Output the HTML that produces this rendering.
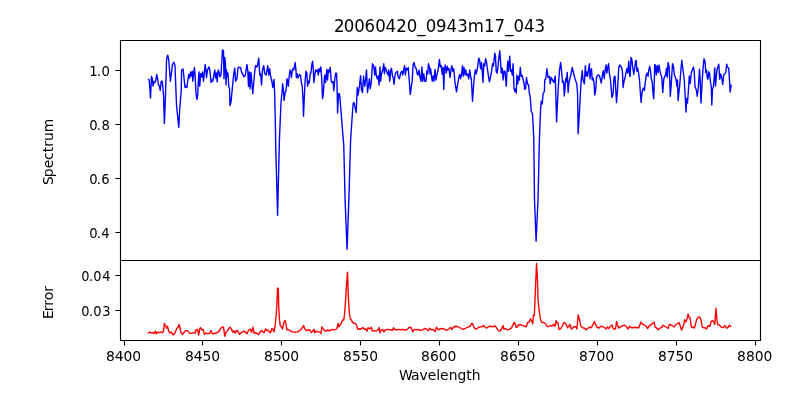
<!DOCTYPE html>
<html><head><meta charset="utf-8"><title>20060420_0943m17_043</title><style>
html,body{margin:0;padding:0;background:#fff;width:800px;height:400px;overflow:hidden}
svg{display:block;will-change:transform}
text{fill:#000}
</style></head><body>
<svg width="800" height="400" viewBox="0 0 800 400">
<rect x="0" y="0" width="800" height="400" fill="#ffffff"/>
<polyline points="148.60,79.50 149.20,80.00 150.50,98.00 151.50,76.50 152.20,78.00 153.00,86.00 153.80,81.50 154.60,83.00 155.50,81.50 156.80,74.50 157.60,79.00 158.50,85.00 159.40,86.00 160.20,90.50 161.10,82.00 161.90,81.00 162.50,83.00 163.50,95.00 164.40,123.50 165.50,95.00 166.60,58.75 167.75,55.25 168.75,60.00 170.40,81.25 172.50,64.40 174.00,62.25 175.00,66.00 176.50,105.00 178.75,127.25 179.75,108.75 181.25,90.00 181.60,70.00 183.10,69.00 184.00,78.00 185.00,87.50 185.90,86.00 186.90,87.50 187.80,80.00 188.75,74.40 189.60,78.00 190.60,71.90 191.40,76.00 192.25,71.25 192.75,81.25 193.50,75.00 194.40,67.50 195.00,73.75 196.00,93.75 196.90,99.40 197.75,95.00 198.10,85.00 199.00,71.90 199.75,86.25 200.60,73.75 201.50,77.00 202.50,71.90 203.50,81.25 204.40,72.00 205.25,64.40 205.90,70.00 206.50,77.50 207.50,70.00 209.00,66.90 210.00,71.25 211.00,82.50 211.90,80.00 212.75,81.25 213.70,76.00 214.75,70.00 215.50,78.00 216.30,73.00 217.25,81.90 218.10,70.00 219.00,72.00 220.00,76.90 221.00,74.40 222.50,50.00 223.50,50.60 224.00,78.75 224.75,57.50 225.40,62.00 226.00,85.00 226.50,70.00 227.25,76.25 227.90,73.00 228.75,86.25 229.50,88.00 230.00,105.60 231.00,101.90 231.80,94.00 233.10,80.00 233.75,73.75 234.75,68.10 235.60,81.25 236.90,78.75 238.10,67.50 239.40,67.50 240.60,67.50 241.50,71.90 242.75,74.40 244.00,76.90 245.20,75.60 246.90,64.40 247.75,70.00 248.50,86.25 249.40,71.90 250.00,88.75 251.00,72.50 251.90,83.00 252.75,93.75 253.60,84.00 254.75,71.25 255.60,65.60 256.90,66.90 257.60,65.00 258.75,58.10 259.75,75.00 260.60,73.75 261.50,85.00 262.50,70.00 263.75,65.60 264.75,73.75 266.20,75.00 267.75,65.60 268.75,75.00 269.75,68.75 270.60,76.25 271.90,81.25 272.75,87.50 274.00,79.40 274.60,92.00 275.30,120.00 275.80,150.00 277.60,215.20 278.20,190.00 279.40,140.00 281.00,102.50 282.25,90.00 282.50,83.75 283.30,88.00 284.10,100.50 285.10,92.50 286.00,91.25 287.00,78.75 287.60,81.00 288.25,86.25 289.20,76.00 290.10,70.00 290.80,72.00 291.40,77.50 292.25,70.60 293.00,68.75 293.80,70.00 294.50,66.25 295.10,62.50 295.80,68.00 296.40,77.50 297.00,73.75 298.00,78.10 298.80,76.00 299.50,74.40 300.50,75.60 301.40,82.50 302.25,86.25 303.00,99.40 303.50,116.25 304.30,98.00 305.10,81.25 306.00,71.25 306.75,72.50 307.60,86.25 308.50,81.25 309.30,83.00 310.10,73.75 311.00,72.50 311.75,65.00 312.60,61.25 313.25,68.75 313.90,82.50 314.75,75.00 315.75,70.00 316.75,71.25 317.60,70.00 318.25,75.00 318.90,68.75 319.75,71.90 320.75,66.90 321.75,78.75 322.50,98.50 323.20,95.00 324.50,76.25 325.00,75.00 325.60,82.50 326.90,69.40 327.50,80.00 328.50,70.00 329.40,72.00 330.25,67.50 331.25,81.25 332.25,82.50 333.10,81.50 333.75,90.60 334.75,80.00 335.60,73.10 336.50,73.10 337.00,83.75 337.60,113.00 338.50,93.75 339.40,93.75 340.00,98.75 342.50,130.00 343.75,145.00 345.10,200.00 347.10,249.30 348.85,200.00 350.60,140.00 351.25,130.00 353.10,103.75 354.00,102.50 355.00,106.90 356.25,112.50 357.25,87.50 358.10,95.00 359.40,86.25 360.60,75.60 361.50,90.00 362.50,92.50 363.50,76.25 364.75,86.25 365.60,80.00 366.50,70.00 367.50,92.50 368.40,86.00 369.40,78.75 370.25,88.75 371.25,82.50 372.50,63.75 373.75,66.25 374.75,75.00 375.50,66.90 376.25,75.00 377.25,78.75 378.20,76.00 379.00,85.00 380.00,66.90 380.60,81.25 381.50,73.75 382.50,71.00 383.75,63.75 384.40,73.75 385.25,67.50 386.25,70.00 387.20,73.00 388.10,75.00 388.80,70.00 389.75,81.25 390.60,71.25 391.50,68.10 392.50,76.25 393.30,78.00 394.00,84.40 395.00,75.00 396.00,72.50 397.25,71.25 398.10,76.90 399.40,78.75 400.60,73.10 401.90,71.25 402.80,75.00 403.75,69.40 404.60,65.60 405.40,75.00 406.25,68.10 407.25,70.00 408.25,67.50 409.40,82.50 410.25,94.40 411.25,87.50 412.25,80.00 413.10,65.00 414.00,62.50 415.00,66.90 416.25,68.75 417.25,73.75 418.10,75.00 419.00,70.00 420.00,77.50 421.00,81.25 421.90,66.90 422.75,81.25 423.75,73.75 424.75,81.25 426.00,81.25 426.90,70.60 427.70,74.00 428.50,63.75 429.40,66.90 430.00,73.75 430.60,68.75 431.50,75.60 432.25,81.25 433.10,76.00 434.00,81.25 435.00,69.40 436.00,80.00 436.90,75.00 438.10,70.00 439.40,59.40 440.25,66.90 441.25,65.60 442.25,74.40 443.10,67.50 443.75,89.40 444.40,70.00 445.25,65.00 446.25,73.10 447.25,66.25 448.10,70.00 449.00,68.50 450.00,77.50 451.00,70.00 451.90,65.60 452.75,71.25 453.75,68.75 455.00,82.50 456.50,91.90 457.75,83.75 458.75,77.50 459.75,74.40 460.60,78.75 461.50,73.75 462.50,65.60 463.10,76.25 464.00,67.50 465.00,75.00 465.75,70.00 466.90,75.60 467.80,74.00 468.75,78.75 469.75,70.00 470.60,76.25 471.40,80.00 472.50,101.25 473.40,88.00 474.40,76.25 475.25,70.00 476.25,73.75 477.00,70.00 477.75,66.25 478.75,58.10 479.60,60.00 480.60,68.75 481.50,62.50 482.25,71.25 483.00,82.50 483.75,63.75 484.70,66.00 485.60,58.75 486.50,61.90 487.30,68.00 488.10,73.75 489.40,81.90 490.60,76.25 491.50,72.00 492.50,63.75 493.50,66.00 494.75,53.10 495.50,56.00 496.25,71.90 497.25,73.10 498.20,64.00 499.75,50.60 500.60,62.00 501.25,73.10 502.25,68.10 503.10,80.00 504.00,71.25 505.00,71.25 506.25,86.25 507.00,72.00 507.75,61.25 508.50,71.25 509.00,66.00 509.75,56.25 510.60,71.25 511.40,70.00 512.25,75.00 513.10,63.75 514.00,88.75 514.75,91.25 515.50,89.00 516.25,93.10 516.90,75.00 517.75,83.75 518.50,76.25 519.40,80.00 520.25,67.50 521.25,76.25 522.20,75.50 523.10,79.40 524.00,83.00 524.75,89.40 525.60,88.75 526.50,77.50 527.50,83.75 528.50,85.00 529.40,93.75 530.20,96.50 531.25,111.25 532.50,113.75 533.75,137.50 534.50,200.00 536.10,241.30 538.00,200.00 539.40,140.00 540.60,108.75 541.25,101.25 542.20,104.00 543.10,93.75 544.40,91.25 544.75,80.00 545.80,78.75 546.90,68.75 548.10,77.50 549.40,76.25 550.25,83.75 551.25,77.50 552.50,80.00 553.75,82.50 555.25,76.25 556.60,121.90 557.50,102.50 558.10,90.00 559.40,71.25 560.60,62.50 561.30,68.00 562.50,82.50 563.10,81.00 563.75,83.75 564.30,96.00 564.90,90.00 565.60,78.75 566.30,82.00 567.25,72.50 568.10,92.50 569.00,82.50 570.00,78.10 571.00,74.00 572.25,67.50 573.75,73.75 575.00,78.75 576.25,82.50 576.90,84.00 577.60,95.00 578.10,133.75 579.40,112.50 580.60,90.00 581.25,80.00 582.25,70.60 583.10,80.00 584.40,83.75 585.30,65.60 586.10,76.00 586.90,72.00 587.60,76.25 588.50,70.00 589.40,63.75 590.00,78.75 590.80,72.00 591.50,68.75 592.25,80.00 593.10,78.10 594.00,82.50 594.75,95.00 595.60,91.00 596.50,78.00 597.20,75.60 598.10,75.00 599.40,75.60 600.25,78.75 601.25,83.10 602.30,76.00 603.30,70.60 604.20,78.75 605.10,70.00 606.10,65.00 606.80,73.10 607.70,68.00 608.50,63.75 609.50,74.40 610.40,78.75 611.90,97.50 613.10,93.75 614.00,77.50 615.00,76.25 616.50,102.50 617.50,90.00 618.75,67.50 619.75,65.00 621.50,67.50 622.40,71.00 623.10,87.50 624.00,81.25 625.00,78.00 626.00,72.50 626.90,68.75 627.80,73.00 628.75,61.25 629.75,76.25 630.20,76.25 631.00,57.50 631.80,59.00 632.75,67.50 633.75,74.40 634.70,68.00 635.60,61.25 636.25,60.60 636.90,71.25 637.75,68.10 638.50,72.50 639.50,80.00 640.30,92.00 641.10,102.50 641.80,95.00 642.50,90.00 643.50,88.10 644.40,90.60 645.25,82.50 646.25,75.00 647.25,73.10 648.10,76.25 648.75,70.00 649.75,66.25 650.60,71.90 651.25,78.75 652.20,82.00 653.10,94.40 653.75,98.75 654.75,64.40 655.50,65.50 656.25,75.00 657.25,65.60 658.10,72.50 659.00,65.00 660.00,71.25 661.00,75.00 661.80,77.00 662.75,92.50 663.75,79.40 664.75,76.25 665.60,75.00 666.50,68.10 667.25,77.50 668.10,62.50 669.00,66.00 669.75,80.00 670.30,96.25 671.20,85.00 672.50,63.75 673.40,66.00 674.40,75.00 675.25,76.90 676.10,80.00 676.90,86.25 677.50,80.00 678.10,100.60 680.00,82.00 680.90,70.00 681.80,60.25 683.00,70.00 684.20,79.00 685.25,97.00 686.00,112.00 686.75,98.50 687.50,103.00 688.30,92.00 689.30,76.00 690.20,83.50 691.25,73.00 692.30,70.00 693.50,67.00 694.25,71.50 695.00,86.50 696.20,89.50 697.25,96.25 698.30,88.00 699.50,69.25 700.20,80.00 701.00,103.00 702.20,80.50 703.10,68.00 704.00,58.75 705.10,62.00 705.75,72.50 706.50,70.00 707.25,77.75 708.00,79.25 708.75,71.75 709.50,73.00 710.25,80.00 711.30,87.50 711.80,105.00 712.50,89.00 713.25,87.50 714.00,80.00 714.75,68.00 715.50,86.00 716.20,78.00 717.00,69.50 717.90,67.00 718.80,64.25 719.70,79.25 720.75,74.00 721.60,77.00 722.70,84.50 723.75,74.75 724.80,74.00 725.80,72.00 726.75,64.25 727.50,67.25 728.70,68.00 729.30,77.00 730.20,92.00 731.10,85.25" fill="none" stroke="#0000ff" stroke-width="1.3889" stroke-linejoin="round" stroke-linecap="square"/>
<polyline points="148.50,332.75 150.00,331.90 151.25,333.10 152.50,332.75 153.75,333.50 155.25,331.25 156.25,334.00 157.50,331.90 159.00,332.75 160.60,331.90 162.50,332.75 163.50,331.00 164.40,323.50 165.60,325.60 166.50,328.00 167.50,326.50 168.75,331.25 170.00,333.10 171.25,331.90 172.75,334.75 174.40,334.00 175.60,331.25 176.90,328.10 177.90,327.75 179.00,324.40 180.00,327.50 181.00,332.75 182.50,334.40 184.00,332.50 185.60,330.60 187.50,330.60 189.40,333.10 191.25,333.50 193.10,332.50 195.00,333.50 196.00,330.00 197.50,329.40 198.75,335.00 199.75,328.75 200.60,327.50 201.90,330.00 203.10,329.40 204.40,334.40 205.60,333.10 207.50,333.50 209.40,333.50 211.00,330.60 211.90,333.10 213.10,334.00 214.40,333.10 215.60,333.50 216.90,332.50 218.50,331.90 220.00,329.40 221.90,327.25 223.50,326.90 224.75,336.25 226.00,332.50 227.50,330.60 229.00,328.10 230.25,327.25 231.50,329.40 232.75,332.25 234.00,330.60 235.25,333.10 236.50,330.60 238.10,331.25 239.40,334.40 241.20,332.75 243.10,331.25 245.00,331.50 246.90,333.75 248.75,330.00 250.25,329.00 251.50,332.25 253.10,327.25 254.00,333.10 255.60,332.75 257.20,333.50 258.75,334.75 260.00,331.90 261.50,330.60 262.75,331.90 264.00,332.75 265.60,329.00 266.90,330.60 268.10,330.25 269.40,331.90 270.60,332.75 271.90,328.50 273.00,329.40 274.00,331.90 275.25,324.40 276.25,315.00 276.90,303.75 277.50,288.00 278.30,288.60 278.75,306.25 279.40,318.75 280.25,325.60 281.50,326.90 282.50,329.00 284.00,321.90 285.00,320.60 286.00,323.75 286.90,330.00 288.10,329.40 289.40,330.25 290.60,331.25 292.50,331.90 295.00,332.25 296.90,331.90 298.75,331.25 300.60,330.00 301.90,328.10 303.50,325.60 304.75,328.75 306.25,330.60 308.10,330.00 309.75,329.75 311.25,332.50 312.50,331.25 314.00,329.40 314.75,332.75 316.25,331.25 318.10,331.90 319.50,331.90 321.00,333.50 321.90,326.90 323.10,328.75 324.75,330.60 326.20,331.25 327.75,329.75 329.20,331.00 330.60,330.00 332.50,329.40 334.40,330.00 336.90,328.75 338.10,323.50 339.00,326.90 340.00,325.00 341.20,323.75 342.50,320.00 343.75,320.00 344.75,312.50 345.60,300.00 346.50,285.00 347.50,272.25 348.50,300.00 349.40,312.50 350.25,318.75 351.50,320.00 352.50,322.50 354.00,323.10 355.60,323.75 356.90,326.25 357.75,329.40 359.40,328.75 361.00,329.00 362.75,327.50 364.40,329.40 365.60,328.75 366.90,331.25 368.10,327.75 369.40,328.75 370.40,328.50 371.25,327.25 372.50,331.00 374.40,330.60 376.25,331.00 378.10,329.75 379.00,327.50 380.00,332.75 381.20,330.25 382.50,329.40 384.00,331.90 385.60,329.75 387.50,329.40 389.40,329.75 391.25,329.75 392.30,330.60 393.50,327.75 395.00,329.75 396.90,329.75 398.75,329.40 400.60,329.75 402.50,329.40 404.40,330.00 406.25,330.00 407.80,328.75 409.40,327.25 411.25,327.75 412.75,331.90 414.40,329.40 416.20,329.75 418.10,329.40 420.00,330.25 422.50,330.00 424.40,328.50 426.20,329.00 426.90,329.75 428.10,330.60 428.50,330.60 429.40,328.10 429.75,328.50 431.25,329.75 433.10,329.40 435.00,331.50 436.50,327.25 438.10,329.75 440.00,329.00 441.90,328.50 443.75,328.75 445.60,330.00 447.40,330.00 449.00,329.00 450.60,327.25 451.90,329.40 453.50,327.25 455.60,326.25 457.50,326.50 459.40,327.50 461.25,328.50 463.10,329.40 465.00,328.50 466.90,327.50 468.75,326.90 470.25,326.25 471.50,323.50 472.75,324.00 473.75,326.90 475.00,328.50 476.50,329.00 478.10,327.75 480.00,326.90 481.90,326.90 483.50,325.60 485.00,327.25 486.50,328.10 488.10,326.90 490.00,326.25 491.90,326.50 493.50,326.90 495.00,325.60 496.25,327.50 497.75,330.00 499.75,331.25 501.50,329.00 503.10,325.60 504.00,329.40 505.60,328.50 507.50,329.75 509.40,329.40 511.25,328.10 512.75,325.60 514.00,322.50 515.25,323.75 516.25,327.50 517.40,326.90 518.50,324.75 520.00,325.00 521.90,325.00 523.75,326.00 526.25,326.90 527.50,322.50 529.00,322.25 530.60,318.75 531.60,320.60 532.75,323.75 533.50,315.00 534.30,315.60 535.00,300.00 535.80,280.00 536.50,263.50 537.30,275.00 538.10,300.00 539.40,312.50 540.60,320.00 541.90,322.50 543.75,322.50 545.60,323.75 546.90,326.25 548.50,326.50 550.20,325.60 551.90,326.00 553.75,324.40 555.00,326.25 556.00,320.60 556.90,323.10 557.80,322.50 559.00,329.40 560.60,328.75 562.25,326.00 563.75,322.50 565.00,323.10 566.50,325.00 567.50,327.75 568.75,326.25 570.00,324.40 571.25,329.00 572.50,328.10 574.00,326.90 575.60,326.50 576.90,329.00 577.50,322.00 578.10,315.00 579.40,318.75 580.60,325.60 582.50,327.75 584.40,328.10 586.00,329.75 587.50,328.50 589.40,327.25 591.25,327.75 593.10,324.40 594.40,321.50 595.60,324.40 596.90,327.25 598.75,328.10 600.60,326.50 602.50,326.50 604.40,327.50 606.25,329.00 607.50,326.90 609.00,328.50 610.25,326.25 611.90,325.00 613.10,328.50 614.75,329.00 615.60,328.75 616.50,321.50 617.50,325.00 618.75,328.10 620.50,326.90 622.75,325.60 624.75,325.25 626.20,326.25 627.75,329.00 629.75,326.25 631.25,327.75 633.10,327.75 635.00,327.25 636.90,327.75 638.75,327.75 639.75,325.00 641.00,322.25 642.50,324.40 644.40,325.00 646.00,326.00 647.75,328.50 649.40,325.60 651.25,324.75 652.75,323.10 654.00,321.90 655.00,326.90 656.90,328.10 658.10,329.75 660.00,328.10 661.60,327.50 663.10,325.25 665.00,326.50 666.90,327.75 668.10,328.50 669.40,324.40 671.00,325.00 672.50,326.00 674.00,326.90 675.60,324.75 677.50,323.50 679.00,322.50 680.60,326.90 681.50,330.00 682.60,327.50 683.75,325.00 684.75,319.75 686.00,321.90 687.25,318.10 688.10,314.00 689.00,317.50 690.00,317.50 691.00,325.00 691.90,327.75 693.10,327.00 694.40,328.10 695.60,323.75 696.90,318.75 698.50,316.90 700.00,317.50 701.25,321.25 702.25,326.90 703.50,327.75 705.00,327.75 706.50,329.00 708.10,325.60 709.75,326.25 711.25,321.25 712.50,320.60 713.75,321.90 714.75,324.40 715.90,308.10 716.90,320.00 717.75,324.75 719.40,325.00 721.00,326.90 722.75,327.75 724.75,325.60 726.25,327.75 727.50,328.10 729.40,325.25 730.60,326.50" fill="none" stroke="#ff0000" stroke-width="1.3889" stroke-linejoin="round" stroke-linecap="square"/>
<path d="M120.50 40.50L760.50 40.50M120.50 260.50L760.50 260.50M120.50 40.50L120.50 260.50M760.50 40.50L760.50 260.50M120.50 260.50L760.50 260.50M120.50 340.50L760.50 340.50M120.50 260.50L120.50 340.50M760.50 260.50L760.50 340.50M124.50 340.50L124.50 345.00M202.50 340.50L202.50 345.00M281.50 340.50L281.50 345.00M360.50 340.50L360.50 345.00M439.50 340.50L439.50 345.00M518.50 340.50L518.50 345.00M597.50 340.50L597.50 345.00M676.50 340.50L676.50 345.00M755.50 340.50L755.50 345.00M120.50 70.50L116.00 70.50M120.50 124.50L116.00 124.50M120.50 178.50L116.00 178.50M120.50 232.50L116.00 232.50M120.50 275.50L116.00 275.50M120.50 310.50L116.00 310.50" fill="none" stroke="#000000" stroke-width="1.1111" stroke-linecap="square"/>
<text transform="translate(109.828 237.677) scale(0.9500 1.0000)" x="-21.59 -13.75 -9.09" y="0" style="font-family:'DejaVu Sans', 'Liberation Sans', sans-serif;font-size:13.889px">0.4</text>
<text transform="translate(109.828 183.947) scale(0.9500 1.0000)" x="-21.59 -13.75 -9.09" y="0" style="font-family:'DejaVu Sans', 'Liberation Sans', sans-serif;font-size:13.889px">0.6</text>
<text transform="translate(109.936 129.677) scale(0.9500 1.0000)" x="-21.84 -14.00 -8.84" y="0" style="font-family:'DejaVu Sans', 'Liberation Sans', sans-serif;font-size:13.889px">0.8</text>
<text transform="translate(110.044 75.677) scale(0.9500 1.0000)" x="-21.84 -13.75 -9.09" y="0" style="font-family:'DejaVu Sans', 'Liberation Sans', sans-serif;font-size:13.889px">1.0</text>
<text transform="translate(53.112 152.000) rotate(-90) scale(1.0000 1.0000)" x="-32.90 -25.34 -16.27 -7.97 -0.34 5.36 11.07 19.87" y="0" style="font-family:'DejaVu Sans', 'Liberation Sans', sans-serif;font-size:13.889px">Spectrum</text>
<text transform="translate(439.400 31.667) scale(0.9950 1.0700)" x="-105.84 -96.23 -85.63 -75.27 -64.42 -54.07 -43.46 -32.86 -22.26 -13.67 -3.32 7.04 17.89 28.49 44.73 55.33 66.19 74.52 85.12 95.48" y="0" style="font-family:'DejaVu Sans', 'Liberation Sans', sans-serif;font-size:16.667px">20060420_0943m17_043</text>
<text transform="translate(123.716 361.276) scale(1.0000 1.0000)" x="-17.67 -9.09 -0.25 8.59" y="0" style="font-family:'DejaVu Sans', 'Liberation Sans', sans-serif;font-size:13.889px">8400</text>
<text transform="translate(202.681 361.276) scale(1.0000 1.0000)" x="-17.67 -8.84 -0.25 8.59" y="0" style="font-family:'DejaVu Sans', 'Liberation Sans', sans-serif;font-size:13.889px">8450</text>
<text transform="translate(281.709 361.276) scale(1.0000 1.0000)" x="-17.67 -8.84 -0.25 8.59" y="0" style="font-family:'DejaVu Sans', 'Liberation Sans', sans-serif;font-size:13.889px">8500</text>
<text transform="translate(360.674 361.276) scale(1.0000 1.0000)" x="-17.67 -8.59 -0.25 8.59" y="0" style="font-family:'DejaVu Sans', 'Liberation Sans', sans-serif;font-size:13.889px">8550</text>
<text transform="translate(438.820 361.276) scale(1.0000 1.0000)" x="-17.92 -8.84 -0.00 8.59" y="0" style="font-family:'DejaVu Sans', 'Liberation Sans', sans-serif;font-size:13.889px">8600</text>
<text transform="translate(517.767 361.276) scale(1.0000 1.0000)" x="-17.67 -8.84 -0.00 8.84" y="0" style="font-family:'DejaVu Sans', 'Liberation Sans', sans-serif;font-size:13.889px">8650</text>
<text transform="translate(596.750 361.492) scale(1.0000 1.0000)" x="-17.67 -9.09 -0.25 8.59" y="0" style="font-family:'DejaVu Sans', 'Liberation Sans', sans-serif;font-size:13.889px">8700</text>
<text transform="translate(675.625 361.492) scale(1.0000 1.0000)" x="-17.67 -8.84 -0.25 8.59" y="0" style="font-family:'DejaVu Sans', 'Liberation Sans', sans-serif;font-size:13.889px">8750</text>
<text transform="translate(754.779 361.276) scale(1.0000 1.0000)" x="-17.67 -8.84 -0.00 8.84" y="0" style="font-family:'DejaVu Sans', 'Liberation Sans', sans-serif;font-size:13.889px">8800</text>
<text transform="translate(439.550 380.273) scale(1.0000 1.0000)" x="-40.45 -28.60 -20.09 -11.87 -3.33 0.53 9.08 17.88 26.70 32.14" y="0" style="font-family:'DejaVu Sans', 'Liberation Sans', sans-serif;font-size:13.889px">Wavelength</text>
<text transform="translate(109.978 315.677) scale(0.9350 1.0000)" x="-30.67 -22.34 -17.92 -8.34" y="0" style="font-family:'DejaVu Sans', 'Liberation Sans', sans-serif;font-size:13.889px">0.03</text>
<text transform="translate(109.978 280.677) scale(0.9350 1.0000)" x="-30.67 -22.34 -17.92 -8.34" y="0" style="font-family:'DejaVu Sans', 'Liberation Sans', sans-serif;font-size:13.889px">0.04</text>
<text transform="translate(53.112 302.200) rotate(-90) scale(1.0000 1.0000)" x="-16.92 -9.15 -3.68 1.97 10.46" y="0" style="font-family:'DejaVu Sans', 'Liberation Sans', sans-serif;font-size:13.889px">Error</text>
</svg>
</body></html>
